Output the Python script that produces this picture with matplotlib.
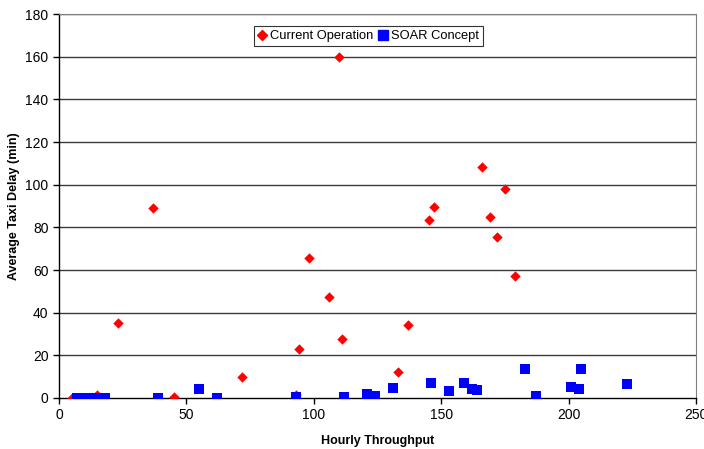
import matplotlib.pyplot as plt
from matplotlib.lines import Line2D

plt.rcParams['font.family'] = ['Liberation Sans', 'DejaVu Sans']

# current operation: hourly throughput vs average taxi delay
cur_x = [5, 15, 23, 37, 45, 72, 93, 94, 98, 106, 110, 111, 133, 137,
         145, 147, 166, 169, 172, 175, 179]
cur_y = [0.2, 1.2, 35.2, 89, 0.3, 9.8, 1.6, 23, 65.6, 47.3, 159.7, 27.7, 12.2, 34.4,
         83.4, 89.5, 108.3, 84.7, 75.5, 98, 57]

# SOAR concept
soar_x = [7, 9, 13, 15, 18, 39, 55, 62, 93, 112, 121, 124, 131, 146,
          153, 159, 162, 164, 183, 187, 201, 204, 205, 223]
soar_y = [0.2, 0.2, 0.2, 0.2, 0.2, 0.1, 4.1, 0.1, 0.6, 0.6, 2.0, 0.8, 4.7, 7.2,
          3.4, 7.2, 4.1, 3.8, 13.6, 1.1, 5.2, 4.4, 13.8, 6.6]

fig = plt.figure(figsize=(7.04, 4.49), dpi=100)
ax = fig.add_axes([0.0838, 0.1136, 0.905, 0.855])

for yv in range(20, 181, 20):
    ax.axhline(yv, color='#3a3a3a', linewidth=1.0, zorder=1)

ax.scatter(cur_x, cur_y, marker='D', s=28, color='#ff0000', linewidths=0, zorder=3)
ax.scatter(soar_x, soar_y, marker='s', s=50, color='#0000ff', linewidths=0, zorder=4)

ax.set_xlim(0, 250)
ax.set_ylim(0, 180)
ax.set_xticks(range(0, 251, 50))
ax.set_yticks(range(0, 181, 20))
ax.tick_params(direction='out', length=4, width=1, labelsize=10, colors='black')

for side in ('top', 'right'):
    ax.spines[side].set_color('#808080')
for side in ('left', 'bottom'):
    ax.spines[side].set_color('black')
    ax.spines[side].set_linewidth(1.0)

ax.set_xlabel('Hourly Throughput', fontsize=9, fontweight='bold', labelpad=9)
ax.set_ylabel('Average Taxi Delay (min)', fontsize=9, fontweight='bold', labelpad=4)

handles = [
    Line2D([], [], marker='D', linestyle='', color='#ff0000', markersize=5.5),
    Line2D([], [], marker='s', linestyle='', color='#0000ff', markersize=7),
]
leg = ax.legend(handles, ['Current Operation', 'SOAR Concept'], ncol=2,
                loc='upper center', bbox_to_anchor=(0.486, 0.968), fontsize=9.3,
                frameon=True, fancybox=False, edgecolor='black',
                handlelength=0.6, handletextpad=0.3, columnspacing=0.5,
                borderpad=0.3, borderaxespad=0)
leg.get_frame().set_linewidth(0.8)

fig.savefig('out.png', dpi=100)
